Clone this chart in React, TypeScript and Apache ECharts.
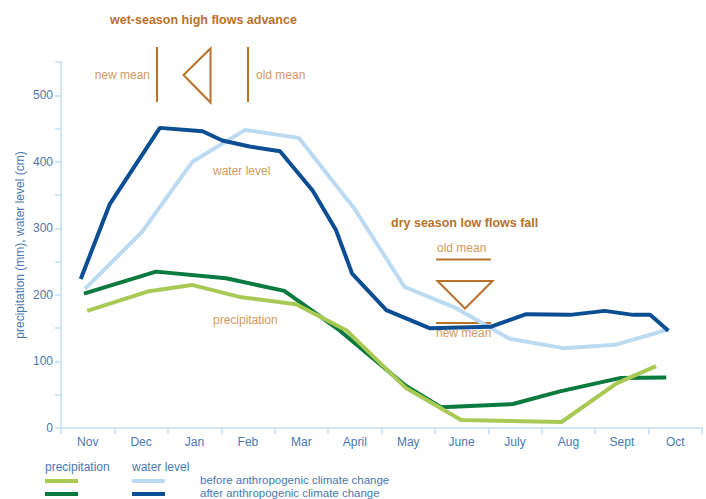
import React, { useEffect, useRef } from "react";
import * as echarts from "echarts";

const months = ["Nov", "Dec", "Jan", "Feb", "Mar", "April", "May", "June", "July", "Aug", "Sept", "Oct"];

// [position in months from start of Nov, value]
const waterBefore: number[][] = [
  [0.45, 209], [1.52, 295], [2.46, 400], [3.45, 448], [4.45, 436], [5.49, 330],
  [6.43, 212], [7.4, 180], [8.4, 134], [9.4, 120], [10.37, 125], [11.37, 148],
];
const waterAfter: number[][] = [
  [0.37, 224], [0.91, 336], [1.85, 451], [2.65, 446], [3.02, 432], [3.53, 423],
  [4.1, 416], [4.71, 357], [5.15, 297], [5.45, 232], [6.09, 177], [6.9, 150],
  [8.04, 152], [8.71, 171], [9.53, 170], [10.18, 176], [10.71, 170], [11.03, 170],
  [11.37, 146],
];
const precipBefore: number[][] = [
  [0.49, 176], [1.62, 205], [2.45, 215], [3.34, 197], [4.4, 186], [5.34, 147],
  [6.46, 60], [7.49, 12], [9.37, 9], [10.4, 67], [11.14, 93],
];
const precipAfter: number[][] = [
  [0.43, 202], [1.78, 235], [3.09, 225], [4.18, 206], [5.21, 147], [6.46, 63],
  [7.12, 31], [8.46, 36], [9.34, 55], [10.46, 75], [11.33, 76],
];

const C_LGREEN = "#a9c955";
const C_DGREEN = "#0a7a3e";
const C_LBLUE = "#bcdaf1";
const C_DBLUE = "#0b4e94";
const C_BROWN = "#b8722a";
const C_TAN = "#d49a5e";
const C_AXIS = "#c4def2";
const C_LABEL = "#4a78b2";
const FONT = "Liberation Sans, Arial, sans-serif";

export default function App() {
  const ref = useRef<HTMLDivElement>(null);
  useEffect(() => {
    if (!ref.current) return;
    const chart = echarts.init(ref.current, null, { renderer: "svg" });
    const line = (name: string, data: number[][], color: string) => ({
      name,
      type: "line",
      xAxisIndex: 1,
      data,
      showSymbol: false,
      symbol: "none",
      lineStyle: { color, width: 4 },
      z: 3,
    });
    const tan = (text: string, x: number, y: number, align: string = "left") => ({
      type: "text",
      x,
      y,
      style: { text, fill: C_TAN, font: `12px ${FONT}`, align, verticalAlign: "middle" },
    });
    const bold = (text: string, x: number, y: number) => ({
      type: "text",
      x,
      y,
      style: { text, fill: C_BROWN, font: `bold 12.5px ${FONT}`, align: "left", verticalAlign: "middle" },
    });
    const seg = (x1: number, y1: number, x2: number, y2: number) => ({
      type: "line",
      shape: { x1, y1, x2, y2 },
      style: { stroke: C_BROWN, lineWidth: 2 },
    });
    const legText = (text: string, x: number, y: number, size: number = 12) => ({
      type: "text",
      x,
      y,
      style: { text, fill: C_LABEL, font: `${size}px ${FONT}`, align: "left", verticalAlign: "middle" },
    });
    const legBar = (x: number, y: number, color: string) => ({
      type: "rect",
      shape: { x, y, width: 33, height: 4 },
      style: { fill: color },
    });
    chart.setOption({
      animation: false,
      grid: { left: 61, right: 4, top: 62, bottom: 71 },
      xAxis: [
        {
          type: "category",
          data: months,
          boundaryGap: true,
          axisLine: { lineStyle: { color: C_AXIS, width: 1.5 } },
          axisTick: { show: true, length: 6, lineStyle: { color: C_AXIS, width: 1.5 } },
          axisLabel: { color: C_LABEL, fontFamily: FONT, fontSize: 12, margin: 8 },
          splitLine: { show: false },
        },
        {
          type: "value",
          min: 0,
          max: 12,
          show: false,
          splitLine: { show: false },
        },
      ],
      yAxis: {
        type: "value",
        min: 0,
        max: 550,
        interval: 50,
        name: "precipitation (mm), water level (cm)",
        nameLocation: "middle",
        nameGap: 35,
        nameMoveOverlap: false,
        nameRotate: 90,
        nameTextStyle: { color: C_LABEL, fontFamily: FONT, fontSize: 12 },
        axisLine: { show: true, lineStyle: { color: C_AXIS, width: 1.5 } },
        axisTick: { show: true, length: 6, lineStyle: { color: C_AXIS, width: 1.5 } },
        axisLabel: {
          color: C_LABEL,
          fontFamily: FONT,
          fontSize: 12,
          margin: 8,
          formatter: (v: number) => (v % 100 === 0 ? String(v) : ""),
        },
        splitLine: { show: false },
      },
      series: [
        line("water level before", waterBefore, C_LBLUE),
        line("water level after", waterAfter, C_DBLUE),
        line("precipitation after", precipAfter, C_DGREEN),
        line("precipitation before", precipBefore, C_LGREEN),
      ],
      graphic: [
        bold("wet-season high flows advance", 110, 20),
        tan("new mean", 150, 75, "right"),
        seg(157, 47, 157, 102),
        {
          type: "polygon",
          shape: { points: [[210.5, 48.5], [210.5, 102.5], [183.5, 75]] },
          style: { fill: "none", stroke: C_BROWN, lineWidth: 2 },
        },
        seg(248, 47, 248, 102),
        tan("old mean", 256, 75),
        tan("water level", 213, 171),
        tan("precipitation", 213, 320),
        bold("dry season low flows fall", 391, 223),
        tan("old mean", 437, 248),
        seg(436, 259.5, 491, 259.5),
        {
          type: "polygon",
          shape: { points: [[437.5, 281], [492.5, 281], [465, 308.5]] },
          style: { fill: "none", stroke: C_BROWN, lineWidth: 2 },
        },
        seg(436, 323, 491, 323),
        tan("new mean", 436, 333),
        legText("precipitation", 45, 467),
        legText("water level", 132, 467),
        legBar(45, 479, C_LGREEN),
        legBar(132, 479, C_LBLUE),
        legText("before anthropogenic climate change", 200, 480, 11.5),
        legBar(45, 492, C_DGREEN),
        legBar(132, 492, C_DBLUE),
        legText("after anthropogenic climate change", 200, 493, 11.5),
      ],
    });
    return () => chart.dispose();
  }, []);
  return <div ref={ref} style={{ width: 706, height: 499, position: "absolute", left: 0, top: 0 }} />;
}
